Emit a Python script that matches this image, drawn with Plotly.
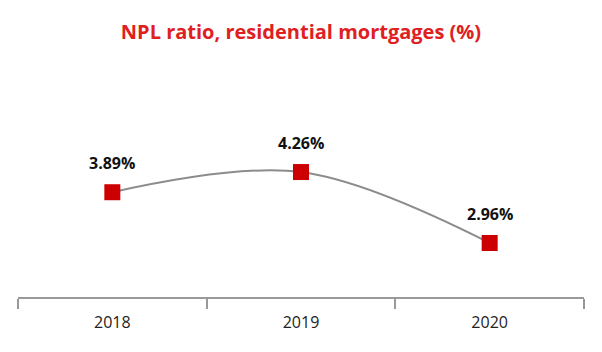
import plotly.graph_objects as go

years = ["2018", "2019", "2020"]
npl = [3.89, 4.26, 2.96]
labels = ["3.89%", "4.26%", "2.96%"]

fig = go.Figure()
fig.add_trace(go.Scatter(
    x=years, y=npl, mode="lines+markers",
    line=dict(color="#8c8c8c", width=2, shape="spline", smoothing=1),
    marker=dict(symbol="square", size=16, color="#cc0000"),
    hoverinfo="skip",
))
for i, (y, t) in enumerate(zip(npl, labels)):
    fig.add_annotation(x=i, y=y, xref="x", yref="y", text="<b>" + t + "</b>", showarrow=False,
                       yshift=29, font=dict(size=16, color="#111111", family="Open Sans"))

fig.update_layout(
    width=602, height=352,
    margin=dict(l=18, r=18, t=70, b=55),
    paper_bgcolor="white", plot_bgcolor="white",
    showlegend=False,
    title=dict(text="<b>NPL ratio, residential mortgages (%)</b>", x=0.5, xanchor="center",
               y=0.91, yanchor="middle",
               font=dict(size=20, color="#e0201f", family="Open Sans")),
    xaxis=dict(type="category", range=[-0.5, 2.5], showline=True, linecolor="#999999", linewidth=2,
               ticks="outside", tickson="boundaries", ticklen=10, tickcolor="#999999", tickwidth=2,
               ticklabelstandoff=10,
               showgrid=False, zeroline=False,
               tickfont=dict(size=16, color="#222222", family="Open Sans")),
    yaxis=dict(range=[1.97, 6.13], visible=False, showgrid=False, zeroline=False),
)
fig.write_html("out.html")
